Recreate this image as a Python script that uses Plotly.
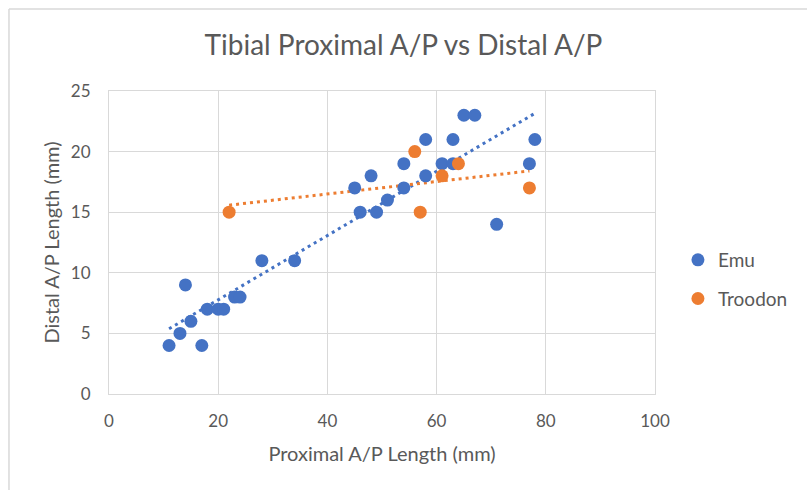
import numpy as np
import plotly.graph_objects as go

# Data
emu_x = [11, 13, 14, 15, 17, 18, 20, 21, 23, 24, 28, 34, 45, 46, 48, 49, 51, 54, 54,
         58, 58, 61, 63, 63, 65, 67, 71, 77, 78]
emu_y = [4, 5, 9, 6, 4, 7, 7, 7, 8, 8, 11, 11, 17, 15, 18, 15, 16, 17, 19,
         18, 21, 19, 19, 21, 23, 23, 14, 19, 21]
troodon_x = [22, 56, 57, 61, 64, 77]
troodon_y = [15, 20, 15, 18, 19, 17]

x_ticks = [0, 20, 40, 60, 80, 100]
y_ticks = [0, 5, 10, 15, 20, 25]

title_text = "Tibial Proximal A/P vs Distal A/P"
x_title = "Proximal A/P Length (mm)"
y_title = "Distal A/P Length (mm)"

BLUE = "#4472C4"
ORANGE = "#ED7D31"
TEXT = "#595959"
GRID = "#D9D9D9"
FONT = "Lato, 'Open Sans', sans-serif"


def trend(xs, ys):
    m, b = np.polyfit(xs, ys, 1)
    lx = [min(xs), max(xs)]
    return lx, [m * v + b for v in lx]


fig = go.Figure()

ex, ey = trend(emu_x, emu_y)
tx, ty = trend(troodon_x, troodon_y)

fig.add_trace(go.Scatter(x=ex, y=ey, mode="lines", showlegend=False, hoverinfo="skip",
                         line=dict(color=BLUE, width=3, dash="3px,4px")))
fig.add_trace(go.Scatter(x=tx, y=ty, mode="lines", showlegend=False, hoverinfo="skip",
                         line=dict(color=ORANGE, width=3, dash="3px,4px")))

fig.add_trace(go.Scatter(x=emu_x, y=emu_y, mode="markers", name="Emu", legendgroup="a",
                         marker=dict(color=BLUE, size=13, line=dict(width=0))))
fig.add_trace(go.Scatter(x=troodon_x, y=troodon_y, mode="markers", name="Troodon", legendgroup="b",
                         marker=dict(color=ORANGE, size=13, line=dict(width=0))))

# outer chart frame (partial, as in the reference)
fig.add_shape(type="line", xref="paper", yref="paper", x0=-0.1832, x1=1.3, y0=1.2706, y1=1.2706,
              line=dict(color="#D9D9D9", width=1.5))
fig.add_shape(type="line", xref="paper", yref="paper", x0=-0.1832, x1=-0.1832, y0=1.2706, y1=-0.35,
              line=dict(color="#D9D9D9", width=1.5))

fig.update_layout(
    width=807, height=490,
    margin=dict(l=109, r=152, t=91, b=96),
    paper_bgcolor="white", plot_bgcolor="white",
    font=dict(family=FONT, color=TEXT, size=17),
    title=dict(text=title_text, x=0.5, xanchor="center", y=0.908, yanchor="middle",
               font=dict(size=28, color=TEXT, family=FONT)),
    showlegend=True,
    legend=dict(x=1.042, xanchor="left", y=0.378, yanchor="middle", xref="paper",
                font=dict(size=19, color=TEXT), tracegroupgap=11,
                bgcolor="rgba(0,0,0,0)", itemwidth=30),
    xaxis=dict(range=[0, 100], tickvals=x_ticks, showgrid=True, gridcolor=GRID, gridwidth=1,
               zeroline=False, showline=True, linecolor=GRID, linewidth=1, mirror=True,
               ticks="outside", ticklen=12, tickcolor="rgba(0,0,0,0)",
               tickfont=dict(size=17, color=TEXT),
               title=dict(text=x_title, font=dict(size=20, color=TEXT), standoff=16)),
    yaxis=dict(range=[0, 25], tickvals=y_ticks, showgrid=True, gridcolor=GRID, gridwidth=1,
               zeroline=False, showline=True, linecolor=GRID, linewidth=1, mirror=True,
               ticks="outside", ticklen=14, tickcolor="rgba(0,0,0,0)",
               tickfont=dict(size=17, color=TEXT),
               title=dict(text=y_title, font=dict(size=20, color=TEXT), standoff=5)),
)

fig.write_html("out.html")
